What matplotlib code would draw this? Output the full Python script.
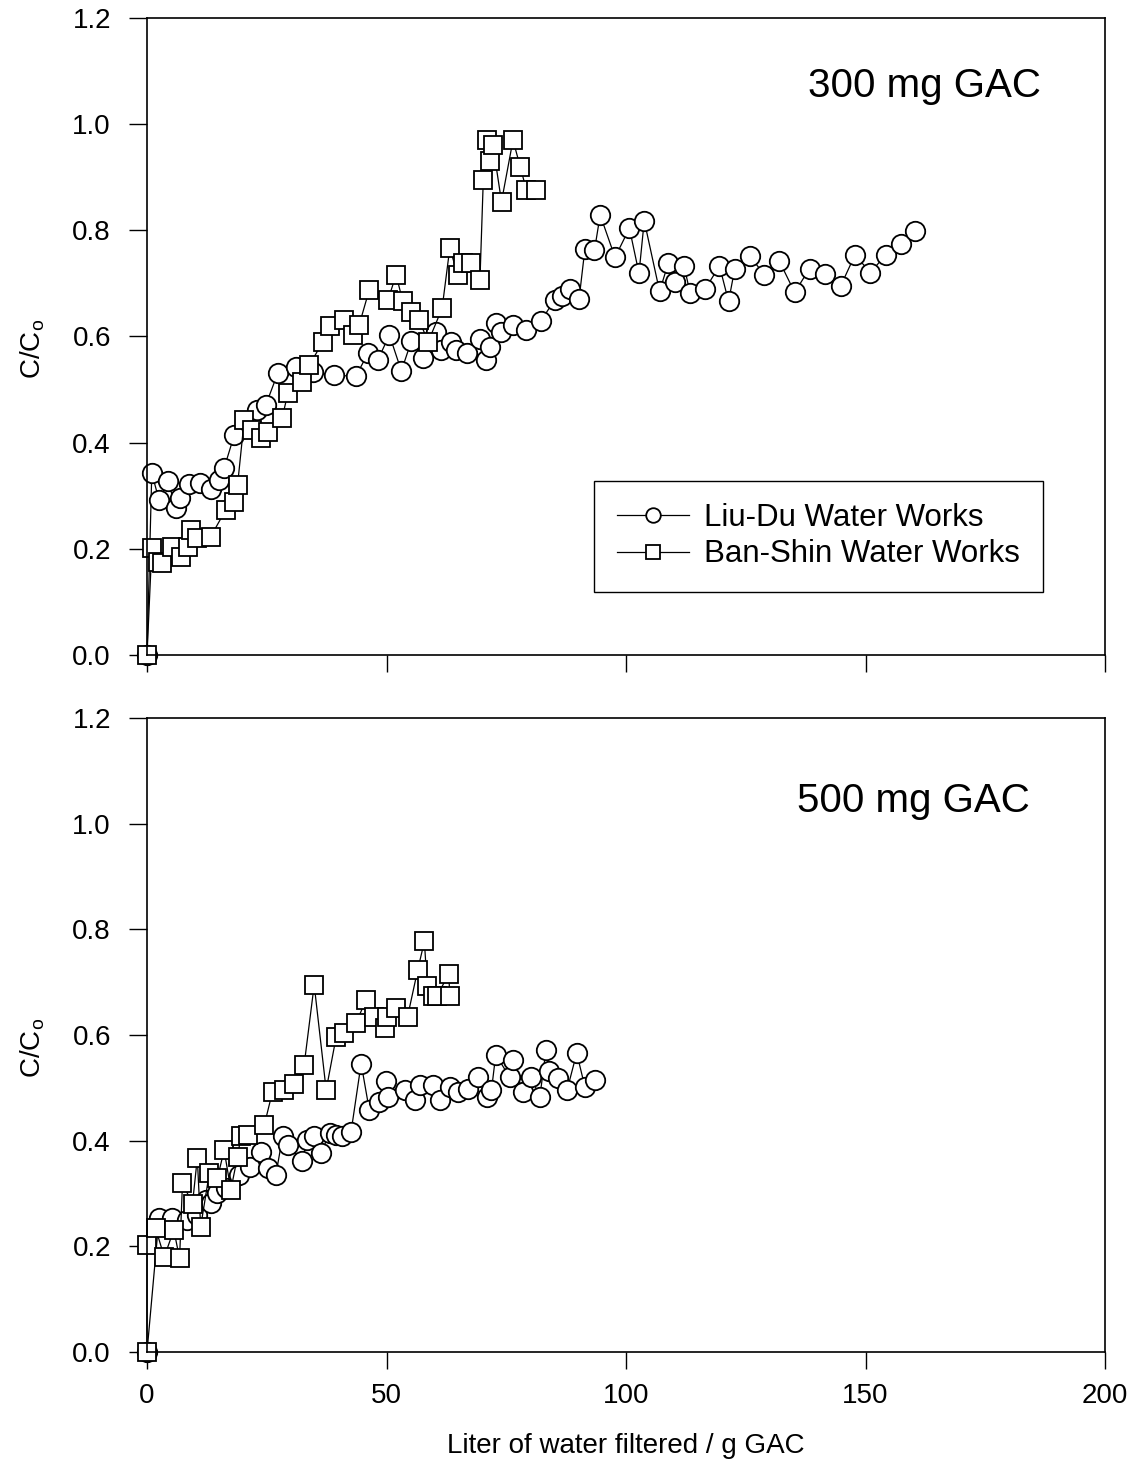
import numpy as np
import matplotlib
matplotlib.use("Agg")
import matplotlib.pyplot as plt

# --- 数据 ---
# 300 mg GAC
top_liudu_x = [0, 1.0, 2.5, 4.4, 6.0, 6.8, 8.8, 11.1, 13.3, 15.1, 16.1, 18.2, 23.0, 24.8,
               27.3, 31.1, 34.6, 39.1, 43.6, 46.1, 48.2, 50.6, 53.1, 55.2, 57.7, 60.4,
               61.4, 63.5, 64.4, 66.8, 69.5, 70.7, 71.5, 72.9, 73.8, 76.3, 79.2, 82.2,
               85.1, 86.7, 88.3, 90.2, 91.4, 93.4, 94.6, 97.7, 100.7, 102.7, 103.8,
               107.0, 108.8, 110.2, 112.1, 113.4, 116.5, 119.5, 121.4, 122.7, 125.8,
               128.9, 132.0, 135.2, 138.3, 141.6, 144.8, 147.8, 151.0, 154.2, 157.3, 160.3]
top_liudu_y = [0, 0.343, 0.292, 0.328, 0.277, 0.296, 0.322, 0.324, 0.313, 0.330, 0.352,
               0.414, 0.462, 0.471, 0.531, 0.543, 0.533, 0.527, 0.525, 0.568, 0.556,
               0.603, 0.535, 0.592, 0.559, 0.609, 0.575, 0.590, 0.575, 0.568, 0.596,
               0.556, 0.580, 0.625, 0.609, 0.622, 0.612, 0.629, 0.669, 0.676, 0.689,
               0.671, 0.764, 0.762, 0.829, 0.749, 0.804, 0.719, 0.818, 0.685, 0.738,
               0.702, 0.733, 0.681, 0.689, 0.733, 0.666, 0.728, 0.752, 0.716, 0.742,
               0.683, 0.728, 0.717, 0.695, 0.754, 0.720, 0.754, 0.775, 0.799]

top_banshin_x = [0, 1.0, 2.2, 3.2, 5.3, 7.2, 8.6, 9.1, 10.5, 13.3, 16.4, 18.2, 18.9,
                 20.3, 22.0, 23.8, 25.2, 28.2, 29.4, 32.4, 33.9, 36.7, 38.1, 41.2, 42.9,
                 44.3, 46.4, 50.3, 52.0, 53.4, 55.2, 56.8, 58.7, 61.6, 63.2, 64.9, 66.0,
                 67.7, 69.5, 70.2, 70.9, 71.5, 72.2, 74.0, 76.4, 77.9, 79.2, 81.3]
top_banshin_y = [0, 0.201, 0.176, 0.173, 0.204, 0.185, 0.204, 0.236, 0.220, 0.223, 0.273,
                 0.289, 0.320, 0.443, 0.424, 0.408, 0.421, 0.446, 0.493, 0.515, 0.546,
                 0.590, 0.620, 0.631, 0.603, 0.622, 0.688, 0.669, 0.716, 0.666, 0.647,
                 0.631, 0.590, 0.653, 0.766, 0.716, 0.739, 0.739, 0.706, 0.895, 0.970,
                 0.930, 0.961, 0.854, 0.970, 0.920, 0.876, 0.876]

# 500 mg GAC
bot_liudu_x = [0, 2.5, 5.3, 8.4, 10.5, 12.3, 13.3, 14.7, 16.5, 19.2, 21.5, 23.8, 25.2,
               26.9, 28.3, 29.4, 32.3, 33.5, 34.9, 36.3, 38.1, 39.5, 40.8, 42.6, 44.7,
               46.4, 48.5, 49.8, 50.3, 53.8, 55.9, 56.9, 59.7, 61.1, 63.2, 64.9, 67.0,
               69.1, 70.9, 71.9, 72.8, 75.7, 76.4, 78.4, 80.2, 82.0, 83.3, 84.0, 85.8,
               87.7, 89.7, 91.4, 93.5]
bot_liudu_y = [0, 0.253, 0.253, 0.250, 0.260, 0.288, 0.282, 0.300, 0.310, 0.335, 0.350,
               0.379, 0.348, 0.335, 0.408, 0.392, 0.362, 0.401, 0.408, 0.376, 0.414,
               0.411, 0.408, 0.417, 0.546, 0.458, 0.474, 0.512, 0.483, 0.496, 0.477,
               0.505, 0.505, 0.477, 0.502, 0.493, 0.498, 0.520, 0.482, 0.495, 0.563,
               0.520, 0.552, 0.493, 0.520, 0.483, 0.572, 0.531, 0.518, 0.496, 0.566,
               0.502, 0.515]

bot_banshin_x = [0, 0, 1.8, 3.6, 5.6, 6.8, 7.4, 9.5, 10.5, 11.2, 13.0, 14.7, 16.1, 17.5,
                 18.9, 19.6, 21.0, 24.5, 26.2, 28.7, 30.7, 32.8, 34.9, 37.4, 39.5, 41.2,
                 43.6, 45.7, 47.4, 49.6, 50.2, 52.0, 54.4, 56.5, 57.9, 58.5, 59.7, 60.5,
                 63.0, 63.2]
bot_banshin_y = [0, 0.203, 0.234, 0.180, 0.231, 0.177, 0.319, 0.281, 0.367, 0.237, 0.338,
                 0.329, 0.382, 0.307, 0.370, 0.408, 0.410, 0.430, 0.493, 0.496, 0.508,
                 0.543, 0.695, 0.496, 0.597, 0.603, 0.622, 0.666, 0.635, 0.613, 0.635,
                 0.651, 0.635, 0.723, 0.777, 0.692, 0.673, 0.673, 0.716, 0.673]

x_ticks = [0, 50, 100, 150, 200]
y_ticks = [0.0, 0.2, 0.4, 0.6, 0.8, 1.0, 1.2]
labels = ["Liu-Du Water Works", "Ban-Shin Water Works"]
# ---

plt.rcParams['font.family'] = ['Liberation Sans', 'DejaVu Sans']


def style_axis(ax, show_xlabels):
    ax.set_xlim(0, 200)
    ax.set_ylim(0, 1.2)
    ax.set_xticks(x_ticks)
    ax.set_yticks(y_ticks)
    ax.set_yticklabels([f"{v:.1f}" for v in y_ticks])
    ax.tick_params(direction='out', length=12, width=1.0, labelsize=20, pad=10)
    ax.tick_params(axis='y', length=13, pad=13)
    if not show_xlabels:
        ax.set_xticklabels([])
    for sp in ax.spines.values():
        sp.set_linewidth(1.2)
    ax.set_ylabel(r'C/C$_\mathregular{o}$', fontsize=20)
    ax.yaxis.set_label_coords(-0.104, 0.48)


def draw_panel(ax, lx, ly, bx, by):
    kw = dict(color='black', lw=0.9, mfc='white', mec='black', mew=1.3, clip_on=False)
    h1, = ax.plot(lx, ly, marker='o', ms=14, label=labels[0], **kw)
    h2, = ax.plot(bx, by, marker='s', ms=13, label=labels[1], **kw)
    return h1, h2


fig = plt.figure(figsize=(11.44, 14.71), dpi=100)
ax1 = fig.add_axes([0.1285, 0.5547, 0.8375, 0.4331])
ax2 = fig.add_axes([0.1285, 0.0809, 0.8375, 0.4310])

h1, h2 = draw_panel(ax1, top_liudu_x, top_liudu_y, top_banshin_x, top_banshin_y)
draw_panel(ax2, bot_liudu_x, bot_liudu_y, bot_banshin_x, bot_banshin_y)

style_axis(ax1, False)
style_axis(ax2, True)

ax1.text(0.812, 0.893, "300 mg GAC", transform=ax1.transAxes, fontsize=29,
         ha='center', va='center')
ax2.text(0.800, 0.869, "500 mg GAC", transform=ax2.transAxes, fontsize=29,
         ha='center', va='center')

leg = ax1.legend(handles=[h1, h2], loc='lower right', bbox_to_anchor=(0.935, 0.099),
                 fontsize=22.5, frameon=True, fancybox=False, framealpha=1,
                 edgecolor='black', handlelength=2.3, handletextpad=0.5,
                 borderpad=0.72, labelspacing=0.2, markerscale=0.75,
                 borderaxespad=0)
leg.get_frame().set_linewidth(1.0)

ax2.set_xlabel("Liter of water filtered / g GAC", fontsize=20)
ax2.xaxis.set_label_coords(0.5, -0.128)

plt.savefig("out.png", dpi=100)
plt.close(fig)
